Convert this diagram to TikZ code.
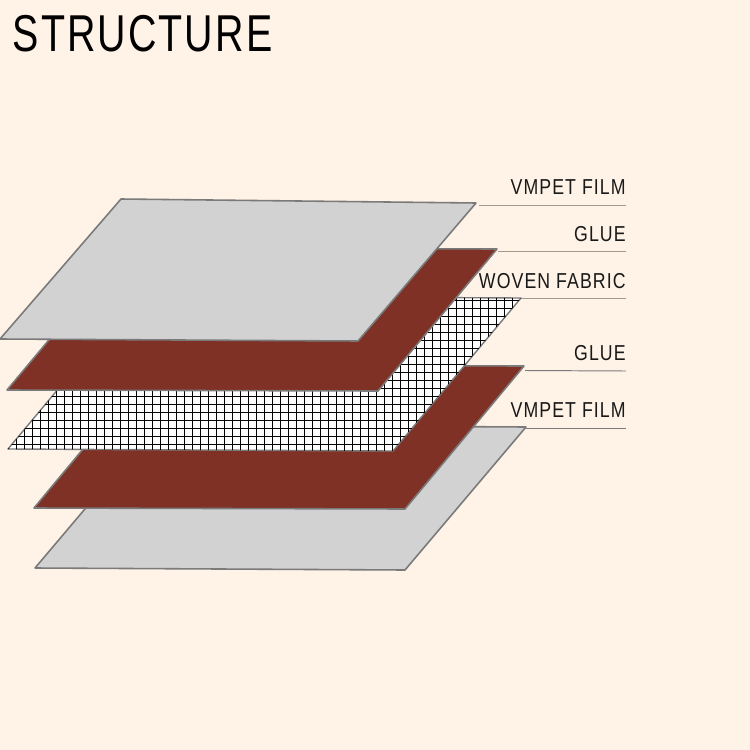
\documentclass[tikz,border=0pt]{standalone}
\usepackage{fontspec}
\usepackage{xcolor}
\usetikzlibrary{positioning,calc}
\newfontfamily\titlefont[FakeStretch=0.76,LetterSpace=4]{Liberation Sans}
\newfontfamily\narrowfont[FakeStretch=0.82,LetterSpace=5]{Liberation Sans}
\definecolor{paper}{HTML}{FFF2E6}
\definecolor{filmgray}{HTML}{D2D2D2}
\definecolor{glued}{HTML}{7F3126}
\definecolor{edgegray}{HTML}{7A7A7A}
\definecolor{leadtan}{HTML}{A39A8C}
\begin{document}
\begin{tikzpicture}[x=0.02cm, y=-0.02cm,
  film/.style={draw=edgegray, fill=filmgray, line width=0.9pt, line join=round},
  gluelayer/.style={draw=edgegray, fill=glued, line width=0.9pt, line join=round},
  fabric/.style={draw=edgegray, fill=white, line width=0.8pt, line join=round},
  lead/.style={draw=leadtan, line width=0.55pt},
  lbl/.style={anchor=base east, inner sep=0pt, text=black!90, font=\narrowfont\fontsize{12.3}{12.3}\selectfont}]
\useasboundingbox (0,0) rectangle (750,750);
\fill[paper] (-5,-5) rectangle (755,755);
\node[anchor=base west, inner sep=0pt, text=black, font=\titlefont\fontsize{29.5}{29.5}\selectfont] (title) at (12.5,51.5) {STRUCTURE};
% layers, bottom first
\coordinate (f2) at (526,427);
\coordinate (g2) at (524,366);
\coordinate (w1) at (521,298);
\coordinate (g1) at (497,249);
\coordinate (f1) at (476,203);
\draw[film] (35,568) -- (405,570) -- (f2) -- (156,425) -- cycle;
\draw[gluelayer] (34,508) -- (405,509) -- (g2) -- (153,365) -- cycle;
\begin{scope}
\draw[fabric] (8,449) -- (393,451) -- (w1) -- (136,296) -- cycle;
\clip (8,449) -- (393,451) -- (w1) -- (136,296) -- cycle;
\foreach \gx in {0,...,65} \draw[black, line width=0.5pt] ({8.7+8*\gx},290) -- ({8.7+8*\gx},455);
\foreach \gy in {0,...,20} \draw[black, line width=0.5pt] (0,{292+8*\gy}) -- (530,{292+8*\gy});
\end{scope}
\draw[gluelayer] (7,390) -- (378,391) -- (g1) -- (126,248) -- cycle;
\draw[film] (0,339) -- (358,341) -- (f1) -- (121,199) -- cycle;
% labels on their leader lines
\coordinate (e1) at (626,205);
\coordinate (e2) at (626,251);
\coordinate (e3) at (626,298);
\coordinate (e4) at (626,371);
\coordinate (e5) at (626,428);
\draw[lead] (479,205) -- (e1);
\draw[lead] (g1) ++(1,2) -- (e2);
\draw[lead] (w1) -- (e3);
\draw[lead, draw=edgegray] (g2) ++(1,4.5) -- (e4);
\draw[lead, draw=edgegray] (f2) ++(0,1) -- (e5);
\node[lbl] (film1) at (626,194.5) {VMPET FILM};
\node[lbl] (glue1) at (626,241.5) {GLUE};
\node[lbl] (weave) at (626,288.5) {WOVEN FABRIC};
\node[lbl] (glue2) at (626,360.5) {GLUE};
\node[lbl] (film2) at (626,417.5) {VMPET FILM};
\end{tikzpicture}
\end{document}
